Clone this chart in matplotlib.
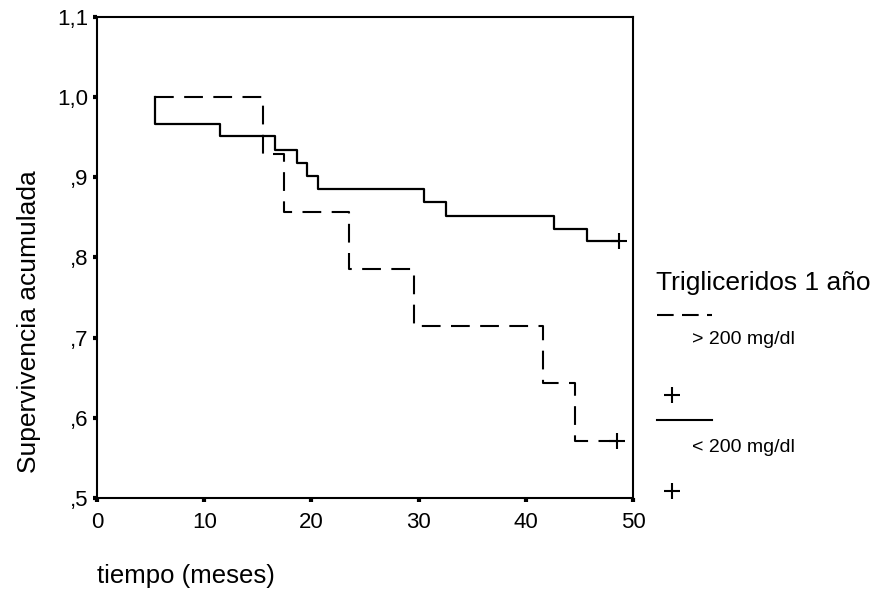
import matplotlib
matplotlib.use("Agg")
import matplotlib.pyplot as plt
from matplotlib.lines import Line2D
from matplotlib.ticker import FuncFormatter

plt.rcParams.update({
    "font.family": ["Liberation Sans", "DejaVu Sans"],
    "font.size": 16,
    "figure.facecolor": "white", "axes.facecolor": "white",
})

# Kaplan-Meier estimates per group (time in months, cumulative survival)
t_high = [5.4, 15.5, 17.4, 23.5, 29.6, 41.6, 44.6, 48.5]
s_high = [1.0, 0.929, 0.857, 0.786, 0.714, 0.643, 0.571, 0.571]
t_low = [5.4, 5.4, 11.5, 16.6, 18.7, 19.6, 20.6, 30.5, 32.6, 42.6, 45.7, 48.7]
s_low = [1.0, 0.967, 0.951, 0.934, 0.918, 0.902, 0.885, 0.869, 0.852, 0.836, 0.820, 0.820]
x_ticks = [0, 10, 20, 30, 40, 50]
y_ticks = [0.5, 0.6, 0.7, 0.8, 0.9, 1.0, 1.1]
legend_title = "Trigliceridos 1 año"
group_labels = ["> 200 mg/dl", "< 200 mg/dl"]

DASH = (0, (9, 5))

fig = plt.figure(figsize=(8.93, 6.07), dpi=100)
ax = fig.add_axes([97 / 893, 1 - 498 / 607, (633 - 97) / 893, (498 - 17) / 607])

ax.plot(t_high, s_high, drawstyle="steps-post", color="black", lw=1.5, linestyle=DASH)
ax.plot(t_low, s_low, drawstyle="steps-post", color="black", lw=1.6)
# censored cases at the end of follow-up
ax.plot(t_high[-1], s_high[-1], marker="+", ms=12, mew=1.5, color="black", ls="none")
ax.plot(t_low[-1], s_low[-1], marker="+", ms=12, mew=1.5, color="black", ls="none")

ax.set_xlim(0, 50)
ax.set_ylim(0.5, 1.1)
ax.set_xticks(x_ticks)
ax.set_yticks(y_ticks)


def comma_fmt(v, pos):
    s = f"{v:.1f}".replace(".", ",")
    return s[1:] if s.startswith("0") else s


ax.yaxis.set_major_formatter(FuncFormatter(comma_fmt))
ax.tick_params(direction="out", length=3, width=3, labelsize=16)
ax.tick_params(axis="x", pad=7)
ax.tick_params(axis="y", pad=3)
for sp in ax.spines.values():
    sp.set_linewidth(1.5)

W, H = 893, 607


def fx(px):
    return px / W


def fy(py):
    return 1 - py / H


# axis titles
fig.text(fx(29), fy(322), "Supervivencia acumulada", fontsize=19, rotation=90,
         va="center", ha="center")
fig.text(fx(97), fy(576), "tiempo (meses)", fontsize=18.5, va="center", ha="left")

# legend block to the right of the plot
fig.text(fx(656), fy(283), legend_title, fontsize=19, va="center", ha="left")
fig.add_artist(Line2D([fx(657), fx(712)], [fy(315), fy(315)], color="black", lw=1.5,
                      linestyle=(0, (8, 4))))
fig.text(fx(692), fy(340), group_labels[0], fontsize=14, va="center", ha="left")
fig.add_artist(Line2D([fx(672)], [fy(395)], marker="+", ms=12, mew=1.5, color="black", ls="none"))
fig.add_artist(Line2D([fx(657), fx(712)], [fy(420), fy(420)], color="black", lw=1.5))
fig.text(fx(692), fy(448), group_labels[1], fontsize=14, va="center", ha="left")
fig.add_artist(Line2D([fx(672)], [fy(491)], marker="+", ms=12, mew=1.5, color="black", ls="none"))

fig.savefig("out.png", dpi=100)
